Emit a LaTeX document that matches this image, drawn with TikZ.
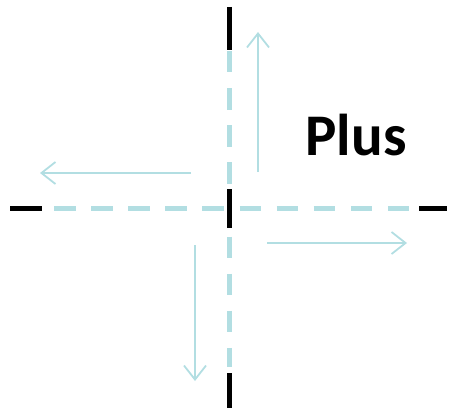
\documentclass[tikz,border=0pt]{standalone}
\usepackage{fontspec}
\setmainfont{Carlito}
\usetikzlibrary{arrows.meta}
\definecolor{paleaxis}{RGB}{178,222,226}
\tikzset{
  axisblack/.style={line width=5pt, black},
  axisdash/.style={line width=5pt, paleaxis, dash pattern=on 21.5pt off 15.6pt},
  flow/.style={line width=1.8pt, paleaxis, -{Straight Barb[length=14pt,width=22pt,line width=1.8pt]}}
}

\begin{document}
\begin{tikzpicture}[x=1pt,y=1pt]
			%%%%% START %%%%%
			\useasboundingbox (0,0) rectangle (449,413);
			
			% horizontal axis
			\coordinate (hl) at (10,205);
			\coordinate (hr) at (447,205);
			\draw[axisdash] (54,205) -- (412,205);
			\draw[axisblack] (hl) -- (42,205);
			\draw[axisblack] (419,205) -- (hr);
			
			% vertical axis
			\coordinate (vt) at (229,406);
			\coordinate (vb) at (229,5);
			\draw[axisdash] (229,362) -- (229,46);
			\draw[axisblack] (vt) -- (229,363);
			\draw[axisblack] (229,40) -- (vb);
			\draw[axisblack] (229,224) -- (229,185);
			
			% arrows
			\coordinate (upA) at (258,241);
			\coordinate (upB) at (258,381);
			\draw[flow] (upA) -- (upB);
			
			\coordinate (leftA) at (191,240);
			\coordinate (leftB) at (40,240);
			\draw[flow] (leftA) -- (leftB);
			
			\coordinate (rightA) at (267,170);
			\coordinate (rightB) at (407,170);
			\draw[flow] (rightA) -- (rightB);
			
			\coordinate (downA) at (195,168);
			\coordinate (downB) at (195,32);
			\draw[flow] (downA) -- (downB);
			
			% label
			\node[font=\fontsize{59}{64}\selectfont\bfseries, inner sep=0pt, anchor=base] (plus) at (356,258) {Plus};
			
			%%%%% END %%%%%
		\end{tikzpicture}
\end{document}
